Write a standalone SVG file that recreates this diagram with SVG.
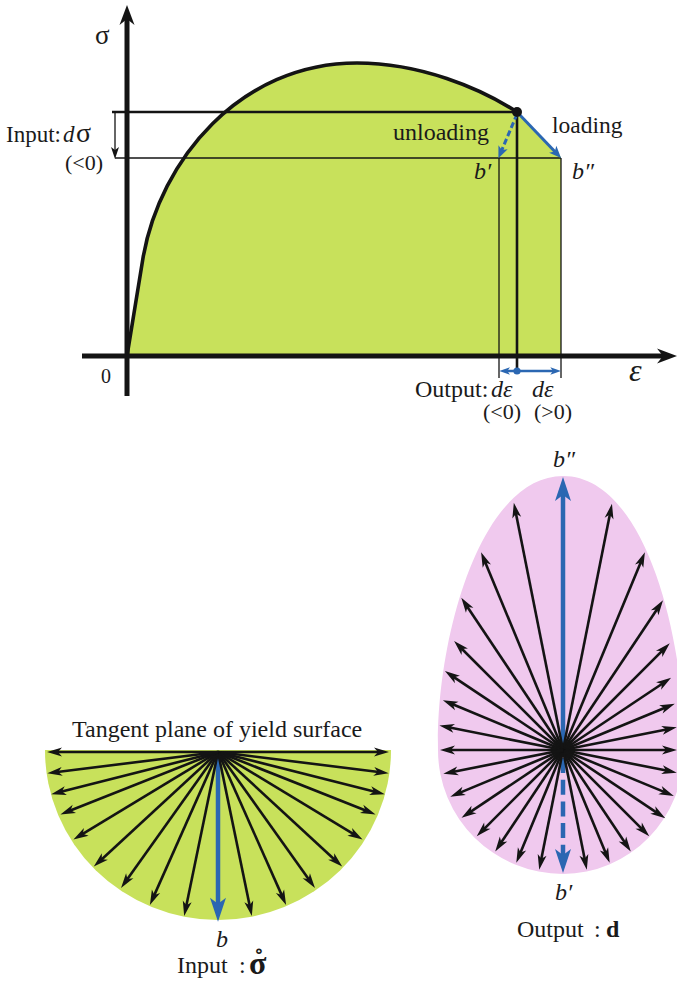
<svg xmlns="http://www.w3.org/2000/svg" width="677" height="987" viewBox="0 0 677 987">
<style>
text{font-family:"Liberation Serif","Times New Roman",serif;fill:#1a1a1a}
.i{font-style:italic}
.b{font-weight:bold}
.ax{stroke:#141414;stroke-width:5;fill:none;marker-end:url(#axh)}
.thin{stroke:#141414;stroke-width:1.3;fill:none}
.fan line{stroke:#141414;stroke-width:2.6;marker-end:url(#ah)}
.blue{stroke:#2b67b2;fill:none}
</style>
<defs>
<marker id="ah" markerUnits="userSpaceOnUse" markerWidth="30" markerHeight="30" refX="0" refY="0" orient="auto" overflow="visible"><path d="M8,0 L-7,-4.5 L-3,0 L-7,4.5 Z" fill="#141414"/></marker>
<marker id="axh" markerUnits="userSpaceOnUse" markerWidth="30" markerHeight="30" refX="0" refY="0" orient="auto" overflow="visible"><path d="M12,0 L-8,-7.5 L-2,0 L-8,7.5 Z" fill="#141414"/></marker>
<marker id="sh" markerUnits="userSpaceOnUse" markerWidth="20" markerHeight="20" refX="0" refY="0" orient="auto" overflow="visible"><path d="M8,0 L-4,-4 L-1,0 L-4,4 Z" fill="#141414"/></marker>
<marker id="bsh" markerUnits="userSpaceOnUse" markerWidth="20" markerHeight="20" refX="0" refY="0" orient="auto" overflow="visible"><path d="M8,0 L-4,-5 L-1,0 L-4,5 Z" fill="#2b67b2"/></marker>
<marker id="bdh" markerUnits="userSpaceOnUse" markerWidth="20" markerHeight="20" refX="0" refY="0" orient="auto-start-reverse" overflow="visible"><path d="M7,0 L-3.7,-3.8 L-1,0 L-3.7,3.8 Z" fill="#2b67b2"/></marker>
<marker id="bh" markerUnits="userSpaceOnUse" markerWidth="40" markerHeight="40" refX="0" refY="0" orient="auto" overflow="visible"><path d="M16,0 L-8,-8 L-2,0 L-8,8 Z" fill="#2b67b2"/></marker>
</defs>

<g id="stress-strain">
  <path id="area" d="M127,356 L143,258 C160,160 240,63 357,63 C420,63 480,88 517,112 L561,157 L561,356 Z" fill="#c8e15b"/>
  <line x1="112" y1="112" x2="517" y2="112" stroke="#141414" stroke-width="2.3"/>
  <line class="thin" x1="115" y1="158" x2="561" y2="158"/>
  <line class="thin" x1="499" y1="158" x2="499" y2="378"/>
  <line class="thin" x1="561" y1="158" x2="561" y2="378"/>
  <line x1="517" y1="112" x2="517" y2="371" stroke="#141414" stroke-width="2.6"/>
  <path id="curve" d="M127,356 L143,258 C160,160 240,63 357,63 C420,63 480,88 517,112" fill="none" stroke="#141414" stroke-width="3.6"/>
  <line class="ax" x1="127" y1="396" x2="127" y2="17"/>
  <line class="ax" x1="82" y1="356" x2="665" y2="356"/>
  <line class="thin" x1="115" y1="112" x2="115" y2="151" marker-end="url(#sh)"/>
</g>

<g id="connectors">
  <line class="blue" x1="517" y1="114" x2="501.5" y2="150.9" stroke-width="3" stroke-dasharray="6 3" marker-end="url(#bsh)"/>
  <line class="blue" x1="517" y1="112" x2="555.5" y2="152.2" stroke-width="3" marker-end="url(#bsh)"/>
  <line class="blue" x1="506.3" y1="371" x2="554" y2="371" stroke-width="2.5" marker-start="url(#bdh)" marker-end="url(#bdh)"/>
  <circle cx="517" cy="371" r="3.6" fill="#2b67b2"/>
  <circle cx="517" cy="112" r="5" fill="#141414"/>
</g>

<g id="labels-top">
  <text x="95" y="43.5" font-size="27">σ</text>
  <text x="6" y="142" font-size="23">Input:<tspan class="i" x="63">d</tspan><tspan x="76" font-size="28">σ</tspan></text>
  <text x="65" y="170" font-size="22">(&lt;0)</text>
  <text x="393" y="140" font-size="24">unloading</text>
  <text x="552" y="133" font-size="23.5">loading</text>
  <text x="474" y="179" font-size="24" class="i">b′</text>
  <text x="572" y="179" font-size="24" class="i">b″</text>
  <text x="101" y="383" font-size="20">0</text>
  <text x="629" y="381" font-size="32" class="i">ε</text>
  <text x="415" y="397" font-size="24">Output:<tspan class="i" x="491">dε</tspan><tspan class="i" x="532">dε</tspan></text>
  <text x="483" y="419" font-size="22">(&lt;0)</text>
  <text x="534" y="419" font-size="22">(&gt;0)</text>
</g>

<g id="input-fan">
  <path d="M45,750 L391,750 A173 170 0 0 1 45,750 Z" fill="#c8e15b"/>
  <line class="blue" x1="218" y1="752" x2="218" y2="905.7" stroke-width="4.5" marker-end="url(#bh)"/>
  <g class="fan">
    <line x1="218" y1="752" x2="381" y2="752"/>
    <line x1="218" y1="752" x2="382" y2="752" transform="rotate(7.1 218 752)"/>
    <line x1="218" y1="752" x2="382" y2="752" transform="rotate(14.2 218 752)"/>
    <line x1="218" y1="752" x2="379.5" y2="752" transform="rotate(21.6 218 752)"/>
    <line x1="218" y1="752" x2="379" y2="752" transform="rotate(31.2 218 752)"/>
    <line x1="218" y1="752" x2="379" y2="752" transform="rotate(42.7 218 752)"/>
    <line x1="218" y1="752" x2="377" y2="752" transform="rotate(54.5 218 752)"/>
    <line x1="218" y1="752" x2="377.4" y2="752" transform="rotate(66 218 752)"/>
    <line x1="218" y1="752" x2="377.5" y2="752" transform="rotate(78.35 218 752)"/>
    <line x1="218" y1="752" x2="377.5" y2="752" transform="rotate(101.65 218 752)"/>
    <line x1="218" y1="752" x2="377.4" y2="752" transform="rotate(114 218 752)"/>
    <line x1="218" y1="752" x2="377" y2="752" transform="rotate(125.5 218 752)"/>
    <line x1="218" y1="752" x2="379" y2="752" transform="rotate(137.3 218 752)"/>
    <line x1="218" y1="752" x2="379" y2="752" transform="rotate(148.8 218 752)"/>
    <line x1="218" y1="752" x2="379.5" y2="752" transform="rotate(158.4 218 752)"/>
    <line x1="218" y1="752" x2="382" y2="752" transform="rotate(165.8 218 752)"/>
    <line x1="218" y1="752" x2="382" y2="752" transform="rotate(172.9 218 752)"/>
    <line x1="218" y1="752" x2="381" y2="752" transform="rotate(180 218 752)"/>
  </g>
  <text x="72" y="737" font-size="24">Tangent plane of yield surface</text>
  <text x="216" y="947" font-size="24" class="i">b</text>
  <text x="177" y="973" font-size="24">Input</text>
  <text x="239" y="973" font-size="24">:</text>
  <text x="249" y="974" font-size="32" class="b">σ</text>
  <text x="259" y="968" font-size="28" text-anchor="middle" class="b">˚</text>
</g>

<g id="output-fan">
  <path d="M438,750 C436,640 480,476 563,476 C646,476 685,640 684,750 A121 124 0 0 1 563,874 A125 124 0 0 1 438,750 Z" fill="#f0c9ee"/>
  <line class="blue" x1="563" y1="750" x2="563" y2="493" stroke-width="4.5" marker-end="url(#bh)"/>
  <line class="blue" x1="563" y1="758" x2="563" y2="857" stroke-width="4.5" stroke-dasharray="15 6.7" marker-end="url(#bh)"/>
  <g class="fan">
    <line x1="563" y1="750" x2="669" y2="750"/>
    <line x1="563" y1="750" x2="671" y2="750" transform="rotate(-11.25 563 750)"/>
    <line x1="563" y1="750" x2="676" y2="750" transform="rotate(-22.5 563 750)"/>
    <line x1="563" y1="750" x2="685" y2="750" transform="rotate(-33.75 563 750)"/>
    <line x1="563" y1="750" x2="706" y2="750" transform="rotate(-45 563 750)"/>
    <line x1="563" y1="750" x2="735" y2="750" transform="rotate(-56.25 563 750)"/>
    <line x1="563" y1="750" x2="769" y2="750" transform="rotate(-67.5 563 750)"/>
    <line x1="563" y1="750" x2="806" y2="750" transform="rotate(-78.75 563 750)"/>
    <line x1="563" y1="750" x2="678" y2="750" transform="rotate(180 563 750)"/>
    <line x1="563" y1="750" x2="681" y2="750" transform="rotate(191.25 563 750)"/>
    <line x1="563" y1="750" x2="685" y2="750" transform="rotate(202.5 563 750)"/>
    <line x1="563" y1="750" x2="697" y2="750" transform="rotate(213.75 563 750)"/>
    <line x1="563" y1="750" x2="709" y2="750" transform="rotate(225 563 750)"/>
    <line x1="563" y1="750" x2="738" y2="750" transform="rotate(236.25 563 750)"/>
    <line x1="563" y1="750" x2="769" y2="750" transform="rotate(247.5 563 750)"/>
    <line x1="563" y1="750" x2="807" y2="750" transform="rotate(258.75 563 750)"/>
    <line x1="563" y1="750" x2="671" y2="750" transform="rotate(11.25 563 750)"/>
    <line x1="563" y1="750" x2="675" y2="750" transform="rotate(22.5 563 750)"/>
    <line x1="563" y1="750" x2="678" y2="750" transform="rotate(33.75 563 750)"/>
    <line x1="563" y1="750" x2="677" y2="750" transform="rotate(45 563 750)"/>
    <line x1="563" y1="750" x2="677" y2="750" transform="rotate(56.25 563 750)"/>
    <line x1="563" y1="750" x2="677" y2="750" transform="rotate(67.5 563 750)"/>
    <line x1="563" y1="750" x2="677" y2="750" transform="rotate(78.75 563 750)"/>
    <line x1="563" y1="750" x2="677" y2="750" transform="rotate(101.25 563 750)"/>
    <line x1="563" y1="750" x2="677" y2="750" transform="rotate(112.5 563 750)"/>
    <line x1="563" y1="750" x2="677" y2="750" transform="rotate(123.75 563 750)"/>
    <line x1="563" y1="750" x2="677" y2="750" transform="rotate(135 563 750)"/>
    <line x1="563" y1="750" x2="677" y2="750" transform="rotate(146.25 563 750)"/>
    <line x1="563" y1="750" x2="677" y2="750" transform="rotate(157.5 563 750)"/>
    <line x1="563" y1="750" x2="677" y2="750" transform="rotate(168.75 563 750)"/>
  </g>
  <text x="553" y="467" font-size="24" class="i">b″</text>
  <text x="555" y="900" font-size="24" class="i">b′</text>
  <text x="517" y="937" font-size="24">Output</text>
  <text x="594" y="937" font-size="24">:</text>
  <text x="606" y="937" font-size="24" class="b">d</text>
</g>
</svg>
